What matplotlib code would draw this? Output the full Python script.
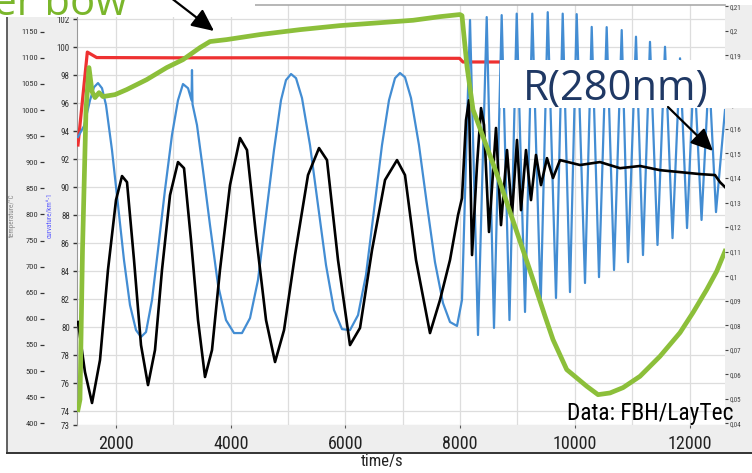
import matplotlib
matplotlib.use("Agg")
import matplotlib.pyplot as plt
from matplotlib.patches import Rectangle, FancyArrowPatch
from matplotlib.lines import Line2D
from matplotlib.ticker import FuncFormatter
from matplotlib import font_manager as fm

# ---------------- data ----------------
time_red = [1337, 1500, 1663, 3000, 5000, 6600, 7990, 8050, 8800]
temp_red = [933, 1111, 1100.5, 1100, 1100, 1099.2, 1099, 1092, 1092]

time_green = [1337, 1372, 1416, 1477, 1529, 1582, 1634, 1704, 1773, 1983, 2187, 2535, 2884,
              3168, 3465, 3639, 3930, 4511, 5208, 5906, 6546, 7179, 7650, 7998, 8033, 8120,
              8225, 8696, 9219, 9481, 9620, 9859, 10208, 10405, 10614, 10841, 11137, 11486,
              11835, 12061, 12300, 12474, 12619]
bow_green = [74.12, 74.84, 85.55, 95.55, 98.55, 96.84, 96.41, 96.76, 96.48, 96.62, 96.98,
             97.69, 98.55, 99.12, 99.98, 100.41, 100.55, 100.91, 101.26, 101.55, 101.74,
             101.93, 102.19, 102.34, 102.26, 98.64, 95.55, 90.34, 84.05, 80.79, 79.12, 76.98,
             75.79, 75.19, 75.31, 75.69, 76.50, 77.93, 79.62, 81.05, 82.69, 84.0, 85.43]

time_blue = [1337, 1442, 1547, 1616, 1686, 1756, 1826, 1930, 2035, 2139, 2244, 2349, 2436,
             2523, 2628, 2732, 2854, 2976, 3081, 3168, 3256, 3317, 3325, 3334, 3412, 3517,
             3639, 3779, 3918, 4058, 4197, 4337, 4476, 4616, 4755, 4877, 4964, 5052, 5139,
             5243, 5383, 5522, 5662, 5801, 5941, 6080, 6220, 6359, 6499, 6638, 6760, 6865,
             6952, 7039, 7144, 7283, 7423, 7562, 7702, 7824, 7946, 8033,
             8173, 8312, 8464, 8591, 8725, 8861, 8987, 9132, 9259, 9405, 9528, 9672, 9789,
             9916, 10033, 10178, 10295, 10422, 10556, 10684, 10818, 10928, 11067, 11189,
             11311, 11442, 11573, 11704, 11835, 11957, 12079, 12210, 12340, 12462, 12619]
refl_blue = [.1567, .1612, .1717, .1770, .1787, .1766, .1697, .1514, .1290, .1066, .0882,
             .0780, .0752, .0772, .0903, .1106, .1351, .1575, .1717, .1783, .1766, .1717,
             .1840, .1701, .1616, .1432, .1208, .0964, .0821, .0768, .0768, .0829, .0984,
             .1249, .1514, .1717, .1799, .1824, .1807, .1726, .1534, .1290, .1045, .0862,
             .0784, .0780, .0841, .1005, .1269, .1534, .1717, .1807, .1828, .1811, .1726,
             .1534, .1290, .1057, .0890, .0813, .0797, .0903,
             .2044, .0760, .2056, .0789, .2064, .0821, .2070, .0854, .2070, .0882, .2076,
             .0911, .2070, .0935, .2068, .0972, .2016, .0996, .2015, .1025, .2003, .1057,
             .1976, .1086, .1955, .1127, .1935, .1155, .1888, .1196, .1860, .1229, .1832,
             .1261, .1677]

time_black = [1337, 1459, 1582, 1721, 1860, 2000, 2105, 2192, 2314, 2436, 2558, 2680, 2802,
              2942, 3081, 3186, 3308, 3430, 3552, 3674, 3813, 3988, 4162, 4284, 4441, 4616,
              4773, 4930, 5121, 5348, 5540, 5679, 5871, 6080, 6255, 6464, 6691, 6900, 7039,
              7231, 7475, 7650, 7824, 7964, 8033, 8103, 8155, 8208, 8295, 8365, 8417, 8504,
              8626, 8713, 8818, 8905, 8992, 9062, 9149, 9236, 9323, 9411, 9515, 9620, 9742,
              10091, 10440, 10788, 11137, 11486, 11835, 12183, 12445, 12532, 12619]
refl_black = [.0813, .0609, .0483, .0658, .1025, .1310, .1408, .1383, .1066, .0719, .0556,
              .0699, .1025, .1330, .1465, .1440, .1147, .0821, .0589, .0699, .1025, .1371,
              .1563, .1514, .1168, .0821, .0650, .0780, .1086, .1412, .1522, .1473, .1066,
              .0719, .0789, .1106, .1392, .1473, .1412, .1066, .0768, .0903, .1066, .1249,
              .1318, .1636, .1717, .1086, .1453, .1685, .1616, .1180, .1604, .1208, .1514,
              .1249, .1555, .1269, .1514, .1310, .1494, .1371, .1481, .1400, .1473, .1453,
              .1465, .1440, .1449, .1432, .1424, .1416, .1412, .1383, .1363]

x_ticks = [2000, 4000, 6000, 8000, 10000, 12000]
inner_ticks = [73] + list(range(74, 103, 2))
temp_ticks = list(range(400, 1151, 50))
refl_ticks = [round(0.04 + 0.01 * i, 2) for i in range(18)]

# ---------------- fonts ----------------
def pick(*names):
    for n in names:
        try:
            fm.findfont(fm.FontProperties(family=n), fallback_to_default=False)
            return n
        except Exception:
            pass
    return "DejaVu Sans"

NARROW = pick("Liberation Sans Narrow", "Roboto Condensed", "DejaVu Sans")
SANS = pick("Open Sans", "Lato", "DejaVu Sans")

W, H = 752, 473
fig = plt.figure(figsize=(W / 100, H / 100), dpi=100)
fig.patch.set_facecolor("white")

def fx(x):
    return x / W

def fy(y):
    return 1 - y / H

# gray frame of the original software window
fig.add_artist(Rectangle((fx(7), fy(453)), fx(752) - fx(7), (453 - 5) / H,
                         transform=fig.transFigure, facecolor="#eeeeee",
                         edgecolor="none", zorder=-2))
fig.add_artist(Line2D([fx(7), fx(7)], [fy(17), fy(453)], transform=fig.transFigure,
                      color="#555555", lw=1.3, zorder=-1))
fig.add_artist(Line2D([fx(7), fx(752)], [fy(453), fy(453)], transform=fig.transFigure,
                      color="#333333", lw=1.4, zorder=-1))

L, R, T, B = 77, 725, 5.3, 425.3
rect = [fx(L), fy(B), (R - L) / W, (B - T) / H]
ax = fig.add_axes(rect)
ax.set_facecolor("white")
ax.set_xlim(1320, 12619)
ax.set_ylim(73, 103)
ax.set_xticks(x_ticks)
ax.set_xticks(range(2000, 12001, 1000), minor=True)
ax.set_xticklabels([str(v) for v in x_ticks])
ax.set_yticks(inner_ticks)
ax.set_yticklabels([str(v) for v in inner_ticks])
ax.grid(True, which="both", axis="x", color="#dddddd", lw=0.9)
ax.grid(True, which="major", axis="y", color="#dddddd", lw=0.9)
ax.set_axisbelow(True)
ax.tick_params(axis="x", which="major", direction="out", length=2, width=0.8,
               color="#555555", pad=5, labelsize=13, labelcolor="#222222")
ax.tick_params(axis="x", which="minor", length=0)
ax.tick_params(axis="y", direction="out", length=3.2, width=1.0, color="#333333",
               pad=2, labelsize=6.5, labelcolor="#333333")
for lab in ax.get_xticklabels() + ax.get_yticklabels():
    lab.set_fontfamily(NARROW)
for s in ["right", "bottom"]:
    ax.spines[s].set_visible(False)
ax.spines["left"].set_color("#999999")
ax.spines["left"].set_linewidth(0.8)
ax.spines["top"].set_color("#aaaaaa")
ax.spines["top"].set_linewidth(1.2)

# temperature axis (left, outer)
ax_T = ax.twinx()
ax_T.set_ylim(396, 1200.6)
ax_T.yaxis.tick_left()
ax_T.spines["left"].set_position(("outward", 23.5))
for s in ax_T.spines.values():
    s.set_visible(False)
ax_T.set_yticks(temp_ticks)
ax_T.set_yticklabels([str(v) for v in temp_ticks])
ax_T.tick_params(axis="y", direction="out", length=3, width=0.9, color="#333333",
                 pad=1.5, labelsize=6, labelcolor="#333333")
for lab in ax_T.get_yticklabels():
    lab.set_fontfamily(NARROW)
ax_T.plot(time_red, temp_red, color="#ee3131", lw=2.3, solid_joinstyle="round")

# reflectance axis (right)
ax_R = ax.twinx()
ax_R.set_ylim(0.0392, 0.2104)
for s in ax_R.spines.values():
    s.set_visible(False)
ax_R.set_yticks(refl_ticks)
ax_R.yaxis.set_major_formatter(FuncFormatter(
    lambda v, p: ("%g" % round(v, 2)).replace(".", ",")))
ax_R.tick_params(axis="y", direction="out", length=2.2, width=0.8, color="#444444",
                 pad=1.2, labelsize=5, labelcolor="#444444")
for lab in ax_R.get_yticklabels():
    lab.set_fontfamily(NARROW)
ax_R.plot(time_blue, refl_blue, color="#438dd3", lw=1.6, solid_joinstyle="round")
ax_R.plot(time_black, refl_black, color="black", lw=1.9, solid_joinstyle="round")

# bow axis on top (same scale as inner left axis)
ax_G = ax.twinx()
ax_G.set_ylim(73, 103)
ax_G.set_yticks([])
for s in ax_G.spines.values():
    s.set_visible(False)
ax_G.plot(time_green, bow_green, color="#8cbf3a", lw=3.4, solid_joinstyle="round")

# rotated axis titles
fig.text(fx(12), fy(215), "temperature/°C", rotation=90, ha="center", va="center",
         fontsize=5, color="#888888", family=NARROW)
fig.text(fx(51), fy(215), "curvature/km^-1", rotation=90, ha="center", va="center",
         fontsize=5, color="#5a5aff", family=NARROW)
fig.text(fx(382), fy(461), "time/s", ha="center", va="center", fontsize=12,
         color="#222222", family=NARROW)
fig.text(fx(567), fy(420), "Data: FBH/LayTec", ha="left", va="baseline", fontsize=16.8,
         color="black", family=NARROW, zorder=8)

# overlay annotations
fig.add_artist(Rectangle((0, fy(17)), fx(255), 17 / H, transform=fig.transFigure,
                         facecolor="white", edgecolor="none", zorder=5))
fig.add_artist(Rectangle((fx(500), fy(108)), fx(752) - fx(500), 48 / H,
                         transform=fig.transFigure, facecolor="white", edgecolor="none",
                         zorder=5))
fig.text(fx(127), fy(15), "wafer bow", ha="right", va="baseline", fontsize=30,
         color="#7ab62b", family=SANS, zorder=6)
fig.text(fx(523), fy(100), "R(280nm)", ha="left", va="baseline", fontsize=30,
         color="#1f3864", family=SANS, zorder=6)
for (xa, ya), (xb, yb) in [((166, -6), (214, 31)), ((668, 107), (713, 151))]:
    fig.add_artist(FancyArrowPatch((fx(xa), fy(ya)), (fx(xb), fy(yb)),
                                   transform=fig.transFigure,
                                   arrowstyle="-|>,head_length=0.9,head_width=0.42",
                                   mutation_scale=15, lw=1.6, color="black",
                                   shrinkA=0, shrinkB=0, zorder=7))

fig.savefig("out.png", dpi=100)
